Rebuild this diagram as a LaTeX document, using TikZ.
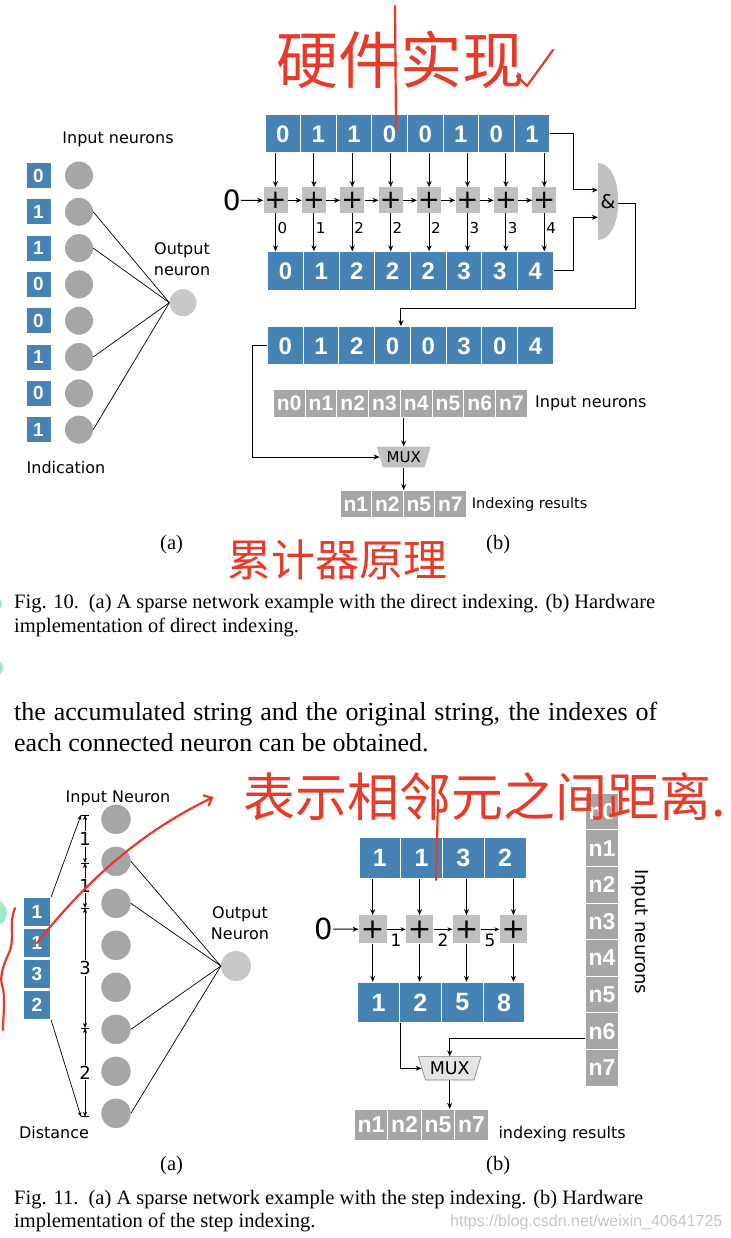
\documentclass[tikz,border=0pt]{standalone}
\usepackage{fontspec}
\setmainfont{Liberation Serif}
\newfontfamily\labfont{DejaVu Sans}
\newfontfamily\boxfont{Liberation Sans}
\newfontfamily\cjk{Noto Sans CJK SC}
\usetikzlibrary{arrows.meta,positioning,calc,shapes.geometric}

\definecolor{cellblue}{RGB}{70,130,180}
\definecolor{cellgray}{RGB}{166,166,166}
\definecolor{outgray}{RGB}{200,200,200}
\definecolor{addgray}{RGB}{192,192,192}
\definecolor{muxlight}{RGB}{228,228,228}
\definecolor{ink}{RGB}{232,58,40}
\definecolor{mint}{RGB}{160,232,200}

\newcommand\fsz[2]{\fontsize{#1}{#2}\selectfont}
\newcommand\cellfont[1]{\boxfont\bfseries\fontsize{#1}{#1}\selectfont}

\begin{document}
\begin{tikzpicture}[
    x=1pt, y=-1pt,
    cell/.style={draw=white, line width=1pt, fill=cellblue, text=white, inner sep=0pt, font=\cellfont{22}},
    ncell/.style={cell, fill=cellgray},
    neuron/.style={circle, fill=cellgray, inner sep=0pt, minimum size=28pt},
    outneuron/.style={neuron, fill=outgray},
    adder/.style={fill=addgray, inner sep=0pt, minimum width=24pt, minimum height=26pt, font=\labfont\fsz{26}{26}},
    lab/.style={font=\labfont\fsz{16}{21}, inner sep=0pt, align=center},
    small/.style={font=\labfont\fsz{15}{15}, inner sep=1.5pt},
    arrow/.style={-{Stealth[length=6pt, width=5pt]}, line width=1pt},
    thinarrow/.style={-{Stealth[length=5pt, width=4pt]}, line width=0.7pt},
    dim/.style={{Stealth[length=5pt, width=4pt]}-{Stealth[length=5pt, width=4pt]}, line width=0.6pt},
    wire/.style={line width=0.7pt},
    mux/.style={trapezium, shape border rotate=180, trapezium stretches=true, trapezium angle=66,
        inner sep=0pt, fill=addgray, font=\labfont\fsz{15}{15}},
    gate/.style={minimum width=20pt, minimum height=77pt, inner sep=0pt, font=\labfont\fsz{19}{19}},
    caption/.style={anchor=west, inner sep=0pt, font=\fsz{20.5}{24}},
    hand/.style={text=ink, inner sep=0pt},
    inkline/.style={draw=ink, line width=2.2pt, line cap=round, line join=round},
]
\useasboundingbox (0,0) rectangle (730,1238);
\clip (0,0) rectangle (730,1238);
\fill[white] (0,0) rectangle (730,1238);

% Fig. 10 (a)
\node[lab] (inneur) at (118,139) {Input neurons};
\foreach \v [count=\i from 0] in {0,1,1,0,0,1,0,1} {
    \node[cell, minimum width=25pt, minimum height=26pt, font=\cellfont{19}] (ind\i) at (38.5,175.5+36.3*\i) {\v};
    \node[neuron] (in\i) at (79,175.5+36.3*\i) {};
}
\node[outneuron, minimum size=27pt] (out) at (183,302.7) {};
\node[lab] (outlab) at (182,259) {Output\\neuron};
\node[lab] (indlab) at (66,468) {Indication};
\foreach \i in {1,2,5,7}
    \draw[wire] (in\i.east) -- (out.west);

% Fig. 10 (b)
\node[font=\labfont\fsz{28}{28}, inner sep=0pt] (zeroa) at (231.7,200.5) {0};
\foreach \v [count=\i from 0] in {0,1,1,0,0,1,0,1}
    \node[cell, minimum width=35.6pt, minimum height=38pt, font=\cellfont{24}] (bit\i) at (282.8+35.6*\i,134) {\v};
\foreach \i in {0,...,7}
    \node[adder] (add\i) at (275.5+38.4*\i,200.3) {+};
\foreach \v [count=\i from 0] in {0,1,2,2,2,3,3,4}
    \node[cell, minimum width=35.7pt, minimum height=38.3pt, font=\cellfont{24}] (acc\i) at (285.5+35.7*\i,271) {\v};
\foreach \v [count=\i from 0] in {0,1,2,0,0,3,0,4}
    \node[cell, minimum width=35.75pt, minimum height=38.3pt, font=\cellfont{24}] (idx\i) at (285.2+35.75*\i,345.8) {\v};
\fill[addgray] (598,163) .. controls +(26.7,0) and +(26.7,0) .. (598,240) -- cycle;
\node[gate] (andg) at (608,201.5) {\&};

\draw[arrow] (zeroa.east) -- (add0.west);
\foreach \i [remember=\i as \p (initially 0)] in {1,...,7}
    \draw[arrow] (add\p.east) -- (add\i.west);
\foreach \v [count=\i from 0] in {0,1,2,2,2,3,3,4} {
    \draw[arrow] (add\i |- bit\i.south) -- (add\i.north);
    \draw[arrow] (add\i.south) -- (add\i |- acc\i.north) node[small, pos=0.38, right] {\v};
}
\draw[arrow] (bit7.east) -- ++(23,0) |- ([yshift=11.5pt]andg.west);
\draw[arrow] (acc7.east) -- ++(20,0) |- ([yshift=-15.8pt]andg.west);
\draw[arrow] ([yshift=-2.5pt]andg.east) -- ++(17,0) -- ++(0,104.3) -| ([xshift=8.5pt]idx3.north);

\foreach \i in {0,...,7}
    \node[ncell, minimum width=31.75pt, minimum height=28pt, font=\cellfont{21}] (nin\i) at (289.2+31.75*\i,403.3) {n\i};
\node[lab, anchor=west] (ninlab) at (535,403.3) {Input neurons};
\node[mux, minimum width=54pt, minimum height=20.6pt] (muxa) at (403.7,457) {MUX};
\foreach \v [count=\i from 0] in {1,2,5,7}
    \node[ncell, minimum width=31.5pt, minimum height=27.3pt, font=\cellfont{21}] (resa\i) at (355.75+31.5*\i,504.3) {n\v};
\node[lab, anchor=west, font=\labfont\fsz{14.5}{14.5}] (resalab) at (471.7,504) {Indexing results};
\draw[arrow] (idx0.west) -- ++(-14.6,0) |- (muxa.west);
\draw[arrow] (muxa.north |- nin3.south) -- (muxa.north);
\draw[arrow] (muxa.south) -- (muxa.south |- resa1.north);

\node[caption] (capa) at (160,545) {(a)};
\node[caption] (capb) at (486,545) {(b)};
\node[caption] (fig10a) at (14,604) {\makebox[641pt][s]{Fig. 10.\ \ (a) A sparse network example with the direct indexing. (b) Hardware}};
\node[caption] (fig10b) at (14,627) {implementation of direct indexing.};

% body text
\node[caption, font=\fsz{26}{30}] (body1) at (14,714) {\makebox[643pt][s]{the accumulated string and the original string, the indexes of}};
\node[caption, font=\fsz{26}{30}] (body2) at (14,743) {each connected neuron can be obtained.};

% Fig. 11 (a)
\node[lab] (inneurb) at (118,798) {Input Neuron};
\foreach \i in {0,...,7}
    \node[neuron, minimum size=29.4pt] (nb\i) at (116,819.3+42*\i) {};
\foreach \v [count=\i from 0] in {1,1,3,2}
    \node[cell, minimum width=27.4pt, minimum height=29.5pt, font=\cellfont{19}] (dist\i) at (37,912+31*\i) {\v};
\node[outneuron, minimum size=30pt] (outb) at (236,966) {};
\node[lab] (outblab) at (240,923.5) {Output\\Neuron};
\node[lab] (distlab) at (54,1133) {Distance};
\foreach \i in {1,2,5,7}
    \draw[wire] (nb\i.east) -- (outb.west);
\foreach \y [count=\i from 0] in {815,863,908,1028,1116.7} {
    \coordinate (tk\i) at (85,\y);
    \draw[wire] ([xshift=-4pt]tk\i) -- ([xshift=4pt]tk\i);
}
\foreach \a/\b/\t in {0/1/1,1/2/1,2/3/3,3/4/2}
    \draw[dim] (tk\a) -- (tk\b) node[midway, fill=white, inner sep=1pt, font=\labfont\fsz{18}{18}] {\t};
\draw[thinarrow] (dist0.north east) -- ([xshift=-4pt]tk0);
\draw[thinarrow] (dist3.south east) -- ([xshift=-4pt]tk4);

% Fig. 11 (b)
\node[font=\labfont\fsz{29}{29}, inner sep=0pt] (zerob) at (324,929) {0};
\foreach \v [count=\i from 0] in {1,1,3,2}
    \node[cell, minimum width=41.75pt, minimum height=40.6pt, font=\cellfont{25}] (stp\i) at (379.9+41.75*\i,858) {\v};
\foreach \i in {0,...,3}
    \node[adder, minimum width=27.7pt, minimum height=28pt, font=\labfont\fsz{28}{28}] (sadd\i) at (372.7+46.9*\i,929.3) {+};
\foreach \v [count=\i from 0] in {1,2,5,8}
    \node[cell, minimum width=41.8pt, minimum height=40.4pt, font=\cellfont{25}] (pos\i) at (378.6+41.8*\i,1002.5) {\v};
\foreach \i in {0,...,3} {
    \draw[arrow] (sadd\i |- stp\i.south) -- (sadd\i.north);
    \draw[arrow] (sadd\i.south) -- (sadd\i |- pos\i.north);
}
\draw[arrow] (zerob.east) -- (sadd0.west);
\foreach \i/\t [remember=\i as \p (initially 0)] in {1/1,2/2,3/5}
    \draw[thinarrow] (sadd\p.east) -- (sadd\i.west) node[small, midway, below=3pt, font=\labfont\fsz{17}{17}] {\t};

\foreach \i in {0,...,7}
    \node[ncell, minimum width=32.3pt, minimum height=36.6pt, font=\cellfont{23}] (ncol\i) at (602,811.6+36.6*\i) {n\i};
\node[lab, rotate=-90, font=\labfont\fsz{18}{18}] (ncollab) at (640,931.7) {Input neurons};
\node[mux, fill=muxlight, draw=gray, line width=0.6pt, minimum width=62.7pt, minimum height=23.3pt, font=\labfont\fsz{17.5}{17.5}] (muxb) at (449.7,1068.3) {MUX};
\foreach \v [count=\i from 0] in {1,2,5,7}
    \node[ncell, minimum width=33.5pt, minimum height=30.7pt, font=\cellfont{23}] (resb\i) at (371+33.5*\i,1124.7) {n\v};
\node[lab, anchor=west] (resblab) at (498.3,1134.3) {indexing results};
\draw[arrow] ([yshift=-7.6pt]ncol6.west) -| (muxb.north);
\draw[arrow] (pos0.south east) |- (muxb.west);
\draw[arrow] (muxb.south) -- (muxb.south |- resb2.north);

\node[caption] (capc) at (160,1166) {(a)};
\node[caption] (capd) at (486,1166) {(b)};
\node[caption] (fig11a) at (14,1200) {\makebox[629pt][s]{Fig. 11.\ \ (a) A sparse network example with the step indexing. (b) Hardware}};
\node[caption] (fig11b) at (14,1222) {implementation of the step indexing.};
\node[anchor=west, inner sep=0pt, text=gray!45, font=\boxfont\fsz{16}{16}] (wmark) at (450,1222) {https://blog.csdn.net/weixin\_40641725};

% handwritten notes
\node[hand, font=\cjk\fsz{62}{62}] (notetop) at (400,60) {硬件实现};
\draw[inkline] (395,6) -- (396,128);
\draw[inkline] (517,76) -- (527,86) -- (553,50);
\node[hand, font=\cjk\fsz{44}{44}] (notemid) at (337,560) {累计器原理};
\node[hand, font=\cjk\fsz{52}{52}] (notebot) at (485,797) {表示相邻元之间距离.};
\draw[inkline] (438,800) -- (436,880);
\draw[inkline, -{Straight Barb[length=7pt, width=12pt]}] (dist1.center) .. controls (95,870) and (150,828) .. ([xshift=-30pt]notebot.west);
\draw[inkline] (15,908) .. controls (8,925) and (16,940) .. (8,955) .. controls (2,968) and (0,978) .. (2,985) .. controls (6,998) and (3,1015) .. (3,1030);
\fill[mint] (-4,604) circle (6);
\fill[mint] (-5,668) circle (8);
\fill[mint] (-6,913) circle (13);
\end{tikzpicture}
\end{document}
